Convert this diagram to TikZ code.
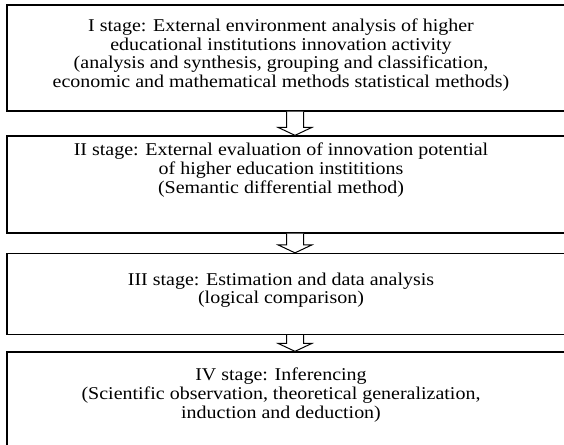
\documentclass[tikz,border=0pt]{standalone}
\usepackage{fontspec}
\setmainfont{Liberation Serif}[FakeStretch=1.11]
\usetikzlibrary{calc}
\begin{document}
\begin{tikzpicture}[x=1pt,y=-1pt]

      \tikzset{stagebox/.style={draw, rectangle, line width=1.3pt, minimum width=576pt, inner sep=0pt},
               stagetext/.style={align=center, inner sep=0pt, font=\fontsize{18}{18.6}\selectfont},
               hollow/.style={draw, line width=1pt, fill=white, line join=miter}}
      \clip (0,0) rectangle (564,444);
% Boxes
      	\node[stagebox, minimum height=106pt] (st1) at (295,58) {};
      	\node[stagebox, minimum height=97pt] (st2) at (295,184.5) {};
      	\node[stagebox, minimum height=81pt] (st3) at (295,294) {};
      	\node[stagebox, minimum height=110pt] (st4) at (295,407) {};
% Texts
	%Stage I
      	\node[stagetext] (tx1) at (281,55) {I stage: External environment analysis of higher\\
      	  educational institutions innovation activity\\
      	  (analysis and synthesis, grouping and classification,\\
      	  economic and mathematical methods statistical methods)};
	%Stage II
      	\node[stagetext] (tx2) at (281,170) {II stage: External evaluation of innovation potential\\
      	  of higher education instititions\\
      	  (Semantic differential method)};
	%Stage III
      	\node[stagetext] (tx3) at (281,290) {III stage: Estimation and data analysis\\
      	  (logical comparison)};
	%Stage IV
      	\node[stagetext] (tx4) at (281,395) {IV stage: Inferencing\\
      	  (Scientific observation, theoretical generalization,\\
      	  induction and deduction)};
% Arrows
	\foreach \a/\b in {st1/st2, st2/st3, st3/st4}
		\draw[hollow] ($(\a.south)+(-8.5,0)$) -- ($(\b.north)+(-8.5,-8)$) -- ($(\b.north)+(-17,-8)$)
		  -- (\b.north) -- ($(\b.north)+(17,-8)$) -- ($(\b.north)+(8.5,-8)$) -- ($(\a.south)+(8.5,0)$);

\end{tikzpicture}
\end{document}
